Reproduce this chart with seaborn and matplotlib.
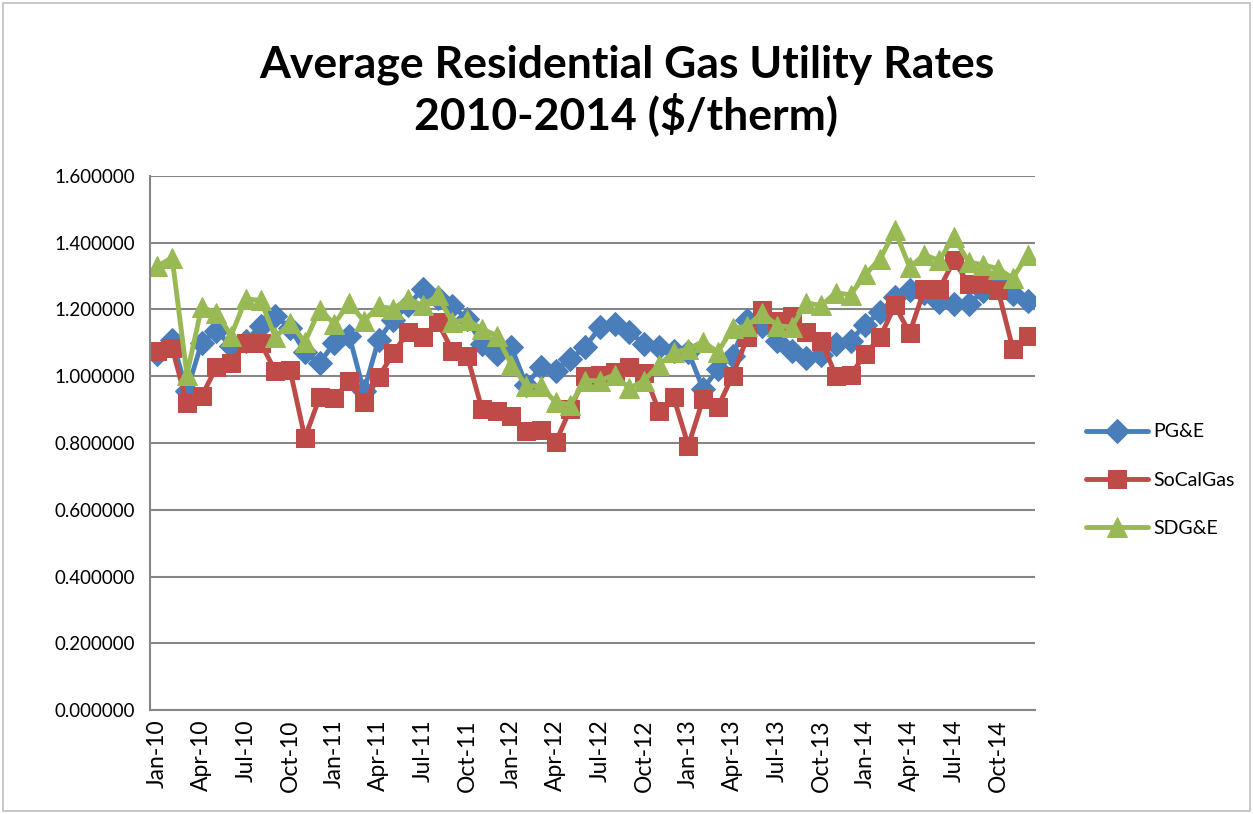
import numpy as np
import pandas as pd
import matplotlib
matplotlib.use("Agg")
import matplotlib.pyplot as plt
import seaborn as sns
from matplotlib.patches import Rectangle

sns.set_style("white")
plt.rcParams['font.family'] = ['Lato', 'DejaVu Sans']
plt.rcParams['text.color'] = 'black'
plt.rcParams['xtick.labelcolor'] = 'black'
plt.rcParams['ytick.labelcolor'] = 'black'

# monthly rates Jan-10 .. Dec-14 ($/therm)
pge = [1.067, 1.110, 0.955, 1.100, 1.137, 1.090, 1.105, 1.152, 1.180, 1.145, 1.072, 1.040,
       1.100, 1.122, 0.955, 1.110, 1.170, 1.212, 1.262, 1.235, 1.210, 1.172, 1.097, 1.067,
       1.087, 0.975, 1.027, 1.017, 1.052, 1.087, 1.147, 1.157, 1.132, 1.097, 1.087, 1.075,
       1.072, 0.962, 1.022, 1.062, 1.168, 1.152, 1.105, 1.077, 1.055, 1.065, 1.097, 1.107,
       1.155, 1.192, 1.237, 1.257, 1.250, 1.222, 1.217, 1.217, 1.255, 1.280, 1.245, 1.224]
socalgas = [1.077, 1.085, 0.920, 0.940, 1.027, 1.040, 1.100, 1.100, 1.015, 1.018, 0.815, 0.937,
            0.935, 0.985, 0.922, 0.997, 1.070, 1.132, 1.117, 1.162, 1.077, 1.062, 0.902, 0.897,
            0.882, 0.835, 0.840, 0.802, 0.902, 1.000, 1.005, 1.012, 1.027, 1.010, 0.897, 0.937,
            0.792, 0.932, 0.907, 1.002, 1.117, 1.200, 1.165, 1.180, 1.132, 1.107, 1.002, 1.004,
            1.067, 1.117, 1.212, 1.130, 1.260, 1.260, 1.347, 1.277, 1.277, 1.257, 1.082, 1.122]
sdge = [1.330, 1.355, 1.005, 1.207, 1.190, 1.122, 1.232, 1.227, 1.117, 1.160, 1.102, 1.200,
        1.157, 1.220, 1.165, 1.210, 1.202, 1.232, 1.212, 1.242, 1.162, 1.170, 1.142, 1.122,
        1.035, 0.972, 0.970, 0.922, 0.915, 0.987, 0.987, 1.004, 0.964, 0.987, 1.034, 1.072,
        1.082, 1.104, 1.072, 1.144, 1.150, 1.190, 1.152, 1.147, 1.220, 1.212, 1.250, 1.244,
        1.305, 1.352, 1.437, 1.327, 1.364, 1.347, 1.417, 1.342, 1.334, 1.322, 1.294, 1.364]
tick_labels = ["Jan-10", "Apr-10", "Jul-10", "Oct-10", "Jan-11", "Apr-11", "Jul-11", "Oct-11",
               "Jan-12", "Apr-12", "Jul-12", "Oct-12", "Jan-13", "Apr-13", "Jul-13", "Oct-13",
               "Jan-14", "Apr-14", "Jul-14", "Oct-14"]

series = [("PG&E", pge, "#4A7EBB", "D", 12),
          ("SoCalGas", socalgas, "#BE4B48", "s", 13),
          ("SDG&E", sdge, "#98B954", "^", 15)]

month_idx = np.arange(len(pge))

fig = plt.figure(figsize=(12.53, 8.14), dpi=100)
ax = fig.add_axes([150/1253, 1 - 710/814, 885/1253, 534/814])

for name, vals, col, mk, ms in series:
    sns.lineplot(x=month_idx, y=vals, ax=ax, color=col, marker=mk, markersize=ms,
                 markeredgecolor=col, linewidth=3.5, label=name)

ax.set_ylim(0, 1.6)
ax.set_xlim(-0.5, len(pge) - 0.5)
ax.set_yticks(np.arange(0, 1.61, 0.2))
ax.set_yticklabels(["%.6f" % v for v in np.arange(0, 1.61, 0.2)], fontsize=13.5)
ax.set_xticks(month_idx[::3])
ax.set_xticklabels(tick_labels, rotation=90, fontsize=16.5)
ax.set_xticks(np.arange(-0.5, len(pge), 3), minor=True)
ax.tick_params(axis='x', which='major', length=0, pad=7)
ax.tick_params(axis='x', which='minor', length=7, width=1.3, color="#868686", direction='out')
ax.tick_params(axis='y', length=7, width=1.3, color="#868686", direction='out', pad=4)
ax.grid(axis='y', color="#868686", linewidth=1.5)
ax.set_axisbelow(True)
for s in ["top", "right"]:
    ax.spines[s].set_visible(False)
for s in ["left", "bottom"]:
    ax.spines[s].set_color("#868686")
    ax.spines[s].set_linewidth(1.5)
ax.set_xlabel("")
ax.set_ylabel("")

fig.text(0.5, 1 - 90/814, "Average Residential Gas Utility Rates\n2010-2014 (\\$/therm)",
         ha='center', va='center', fontsize=32, fontweight='bold', linespacing=1.2,
         color='black')

ax.legend(loc='center left', bbox_to_anchor=(1068/1253, 1 - 480/814),
          bbox_transform=fig.transFigure, frameon=False, fontsize=14,
          handlelength=3.2, labelspacing=1.6, handletextpad=0.3, labelcolor='black')

fig.patches.append(Rectangle((0.002, 0.004), 0.996, 0.992, transform=fig.transFigure,
                             fill=False, edgecolor="#bfbfbf", linewidth=1.2))

fig.savefig("out.png", dpi=100)
